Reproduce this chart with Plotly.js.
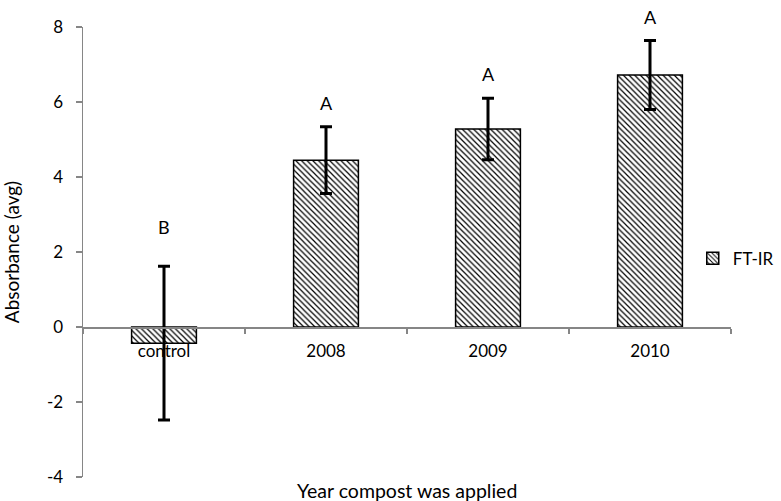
<!DOCTYPE html>
<html>
<head>
<meta charset="utf-8">
<script src="https://cdn.plot.ly/plotly-3.0.1.min.js"></script>
<style>html,body{margin:0;padding:0;background:#fff;}#chart{width:781px;height:501px;}</style>
</head>
<body>
<div id="chart"></div>
<script>
var categories = ["control", "2008", "2009", "2010"];
var absorbance = [-0.43, 4.45, 5.28, 6.72];
var errors = [2.05, 0.89, 0.82, 0.92];
var groupLetters = ["B", "A", "A", "A"];
var yTicks = [-4, -2, 0, 2, 4, 6, 8];
var seriesName = "FT-IR";

var axisGray = "#868686";
var fontFam = "Lato, 'Open Sans', 'DejaVu Sans', sans-serif";

var trace = {
  type: "bar",
  x: categories,
  y: absorbance,
  name: seriesName,
  showlegend: true,
  marker: {
    color: "#ffffff",
    line: {color: "#000000", width: 1.5},
    pattern: {shape: "\\", fgcolor: "#000000", bgcolor: "#ffffff", size: 4, solidity: 0.3}
  },
  error_y: {type: "data", array: errors, visible: true, color: "#000000", thickness: 3, width: 6}
};

var annotations = categories.map(function (c, i) {
  var top = absorbance[i] + errors[i];
  return {
    x: i, y: top, xref: "x", yref: "y", text: groupLetters[i], showarrow: false,
    yanchor: "bottom", yshift: absorbance[i] < 0 ? 26 : 11,
    font: {family: fontFam, size: 18, color: "#000"}
  };
});
annotations.push({
  x: 0.5, y: 0, xref: "paper", yref: "paper", yanchor: "middle", xanchor: "center",
  text: "Year compost was applied", showarrow: false, yshift: -13,
  font: {family: fontFam, size: 19.5, color: "#000"}
});

var layout = {
  width: 781, height: 501,
  margin: {l: 83, r: 50, t: 27, b: 24, autoexpand: false},
  paper_bgcolor: "#ffffff", plot_bgcolor: "#ffffff",
  font: {family: fontFam, size: 17, color: "#000"},
  bargap: 0.6,
  showlegend: true,
  legend: {x: 0.941, y: 0.485, xanchor: "left", yanchor: "middle", itemwidth: 30,
           font: {family: fontFam, size: 17, color: "#000"}, bgcolor: "rgba(0,0,0,0)"},
  xaxis: {
    type: "category",
    range: [-0.5, categories.length - 0.5],
    anchor: "free", position: 1/3,
    showline: true, linecolor: axisGray, linewidth: 1.5,
    ticks: "outside", tickson: "boundaries", ticklen: 5, tickcolor: axisGray, tickwidth: 1.5,
    ticklabelstandoff: 8,
    showgrid: false, zeroline: false,
    tickangle: 0,
    tickfont: {family: fontFam, size: 17, color: "#000"},
    automargin: false
  },
  yaxis: {
    range: [-4, 8], tickvals: yTicks, ticktext: yTicks.map(String),
    showline: true, linecolor: axisGray, linewidth: 1.5,
    ticks: "outside", ticklen: 6, tickcolor: axisGray, tickwidth: 1.5,
    ticklabelstandoff: 9,
    showgrid: false, zeroline: false,
    tickfont: {family: fontFam, size: 17, color: "#000"},
    title: {text: "Absorbance (avg)", font: {family: fontFam, size: 19, color: "#000"}, standoff: 22},
    automargin: false
  },
  annotations: annotations
};

Plotly.newPlot("chart", [trace], layout, {displayModeBar: false, staticPlot: true});
</script>
</body>
</html>
